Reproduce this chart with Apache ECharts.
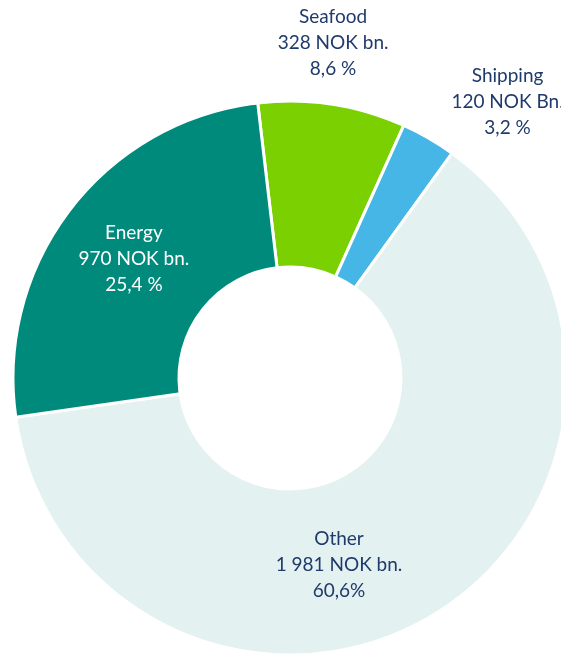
<!DOCTYPE html>
<html><head><meta charset="utf-8">
<script src="https://cdn.jsdelivr.net/npm/echarts@6/dist/echarts.min.js"></script>
<style>html,body{margin:0;padding:0;background:#fff}#c{width:561px;height:654px}</style>
</head><body><div id="c"></div>
<script>
// Categories in clockwise order from the top
var categories = ['Seafood', 'Shipping', 'Other', 'Energy'];
// Value lines and percentage labels as printed
var amountLabels = ['328 NOK bn.', '120 NOK Bn.', '1 981 NOK bn.', '970 NOK bn.'];
var percentLabels = ['8,6 %', '3,2 %', '60,6%', '25,4 %'];
// Slice shares as drawn (angles)
var shares = [8.6, 3.2, 62.8, 25.4];

var colors = ['#7AD000', '#45B6E6', '#E3F1F0', '#008A7B'];
var textColors = ['#1F3A6B', '#1F3A6B', '#1F3A6B', '#FFFFFF'];
var labelOffsets = [[13, -140], [119, -106], [-53, 18], [0, 1]];

var chart = echarts.init(document.getElementById('c'));
chart.setOption({
  animation: false,
  series: [{
    type: 'pie',
    center: [290, 378],
    radius: [111, 277],
    startAngle: 96.7,
    clockwise: true,
    avoidLabelOverlap: false,
    labelLine: { show: false },
    itemStyle: { borderColor: '#fff', borderWidth: 3 },
    emphasis: { disabled: true },
    data: categories.map(function (c, i) {
      return {
        name: c,
        value: shares[i],
        itemStyle: { color: colors[i] },
        label: {
          show: true,
          position: 'inside',
          offset: labelOffsets[i],
          color: textColors[i],
          fontFamily: 'Lato',
          fontSize: 19,
          lineHeight: 26,
          align: 'center',
          formatter: c + '\n' + amountLabels[i] + '\n' + percentLabels[i]
        }
      };
    })
  }]
});
</script></body></html>
